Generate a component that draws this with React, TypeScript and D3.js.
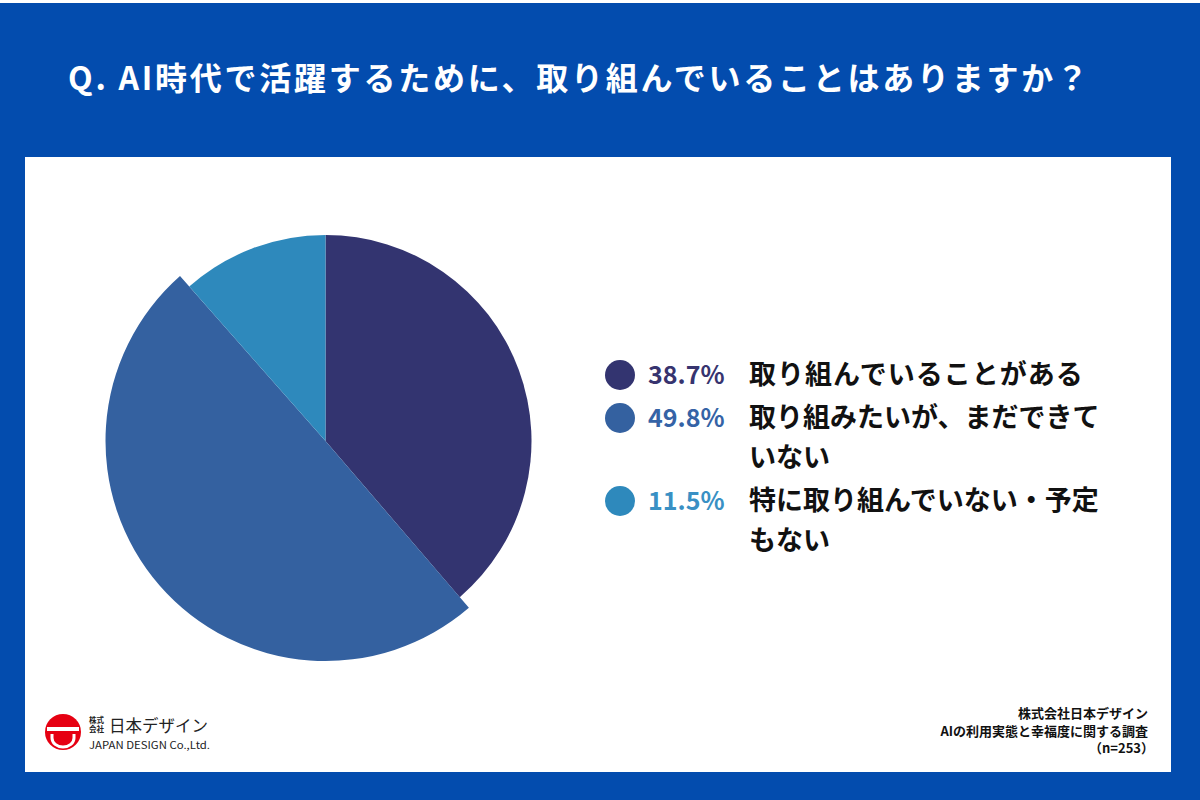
import React from 'react';
import * as d3 from 'd3';

const categories = ['取り組んでいることがある', '取り組みたいが、まだできていない', '特に取り組んでいない・予定もない'];
const values = [38.7, 49.8, 11.5];
const colors = ['#333470', '#3461a0', '#2e89bc'];
const labelColors = ['#37346f', '#3563a6', '#3990c4'];
const title = 'Q. AI時代で活躍するために、取り組んでいることはありますか？';
const sourceLines = ['株式会社日本デザイン', 'AIの利用実態と幸福度に関する調査', '（n=253）'];

const W = 1200;
const H = 800;
const BG = '#034cae';
const FONT = '"Noto Sans CJK JP", "Noto Sans", sans-serif';

// wrap a label every 13 characters
const wrap = (s: string, n = 13) => {
  const out: string[] = [];
  for (let i = 0; i < s.length; i += n) out.push(s.slice(i, i + n));
  return out;
};

const App = () => {
  const cx = 325.5;
  const cy = 441;
  const r = 206;

  const pie = d3.pie<number>().sort(null).value((d) => d);
  const arcs = pie(values);
  const arc = d3.arc<d3.PieArcDatum<number>>().innerRadius(0);
  // the largest slice is drawn a bit bigger than the others
  const outer = (i: number) => (i === 1 ? 220 : r);

  // legend rows
  const rowStart = 384;
  const lineH = 40;
  let y = rowStart;
  const rows = categories.map((c, i) => {
    const lines = wrap(c);
    const row = { y, lines, i };
    y += lines.length * lineH + 3;
    return row;
  });

  return (
    <svg width={W} height={H} style={{ position: 'absolute', left: 0, top: 0, display: 'block' }}>
      <rect x={0} y={0} width={W} height={H} fill={BG} />
      <rect x={0} y={0} width={W} height={3} fill="#ffffff" />
      <text x={68} y={90} fill="#ffffff" fontFamily={FONT} fontWeight={700} fontSize={32}
        textLength={1020} lengthAdjust="spacing">{title}</text>

      <rect x={25} y={157} width={1146} height={615} fill="#ffffff" />

      <g transform={`translate(${cx},${cy})`}>
        {arcs.map((a, i) => (
          <path key={i} d={arc.outerRadius(outer(i))(a) || ''} fill={colors[i]} />
        ))}
      </g>

      {rows.map((row) => (
        <g key={row.i}>
          <circle cx={620} cy={row.y - 9} r={15} fill={colors[row.i]} />
          <text x={648} y={row.y} fill={labelColors[row.i]} fontFamily={FONT} fontWeight={700} fontSize={25}>
            {d3.format('.1f')(values[row.i])}%
          </text>
          {row.lines.map((l, j) => (
            <text key={j} x={749} y={row.y + j * lineH} fill="#111111" fontFamily={FONT} fontWeight={700}
              fontSize={27} letterSpacing={row.lines.length === 1 ? 1 : 0}>
              {l}
            </text>
          ))}
        </g>
      ))}

      {/* logo */}
      <g>
        <circle cx={63} cy={732} r={18} fill="#e60012" />
        <rect x={47} y={727} width={32} height={4} fill="#ffffff" />
        <path d="M52,734 L52,738 A11,9 0 0 0 74,738 L74,734" fill="none" stroke="#ffffff" strokeWidth={3} />
        <text x={89} y={723} fontFamily={FONT} fontSize={7.5} fontWeight={700} fill="#222">株式</text>
        <text x={89} y={732} fontFamily={FONT} fontSize={7.5} fontWeight={700} fill="#222">会社</text>
        <text x={109} y={732} fontFamily={FONT} fontSize={16.5} fill="#222">日本デザイン</text>
        <text x={89} y={749} fontFamily={FONT} fontSize={10} fill="#222" textLength={121} lengthAdjust="spacingAndGlyphs">JAPAN DESIGN Co.,Ltd.</text>
      </g>

      {sourceLines.map((s, i) => (
        <text key={i} x={i === 2 ? 1154 : 1148} y={718 + i * 17.5} textAnchor="end" fontFamily={FONT}
          fontWeight={700} fontSize={13} fill="#111111">{s}</text>
      ))}
    </svg>
  );
};

export default App;
